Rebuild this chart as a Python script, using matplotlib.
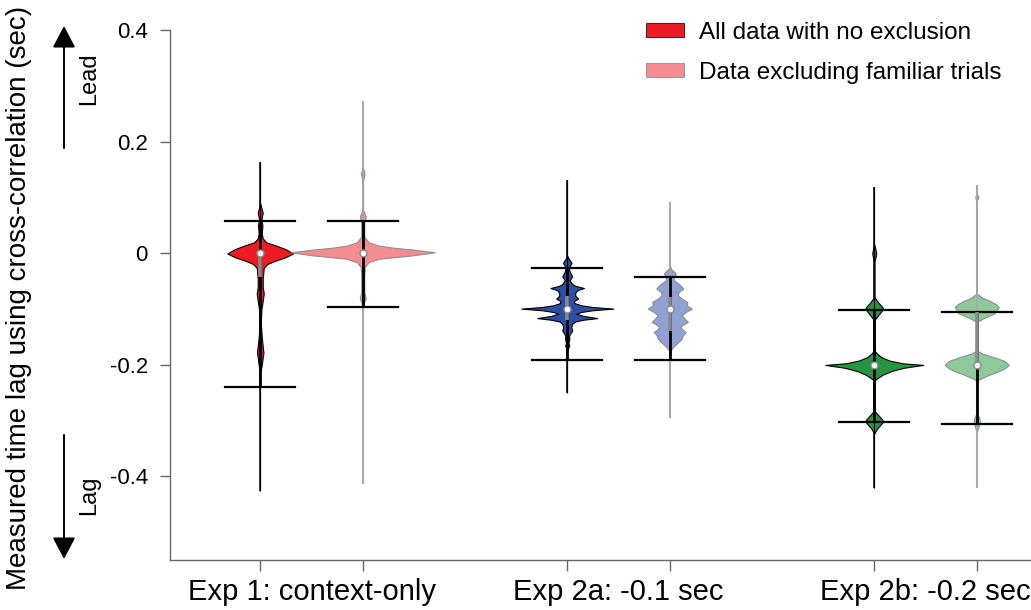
import numpy as np
import matplotlib
matplotlib.use('Agg')
import matplotlib.pyplot as plt
from matplotlib.patches import Patch, FancyArrowPatch

plt.rcParams['font.family'] = ['Liberation Sans', 'DejaVu Sans']

# ---------------- data ----------------
groups = ['Exp 1: context-only', 'Exp 2a: -0.1 sec', 'Exp 2b: -0.2 sec']
series = ['All data with no exclusion', 'Data excluding familiar trials']
ytick_vals = [0.4, 0.2, 0.0, -0.2, -0.4]
ytick_labels = ['0.4', '0.2', '0', '-0.2', '-0.4']

# violin outlines: (lag in sec, half-width as read, px at 307 px per category)
exp1_all_shape = [(0.09, 0), (0.073, 2.5), (0.062, 1.2), (0.05, 2.2), (0.036, 1.5),
                  (0.027, 2.5), (0.02, 6), (0.014, 16), (0.008, 25), (0.0, 33),
                  (-0.007, 25), (-0.013, 15), (-0.019, 7), (-0.026, 3.5), (-0.045, 2.5),
                  (-0.06, 2.5), (-0.072, 3.5), (-0.085, 2.5), (-0.1, 1.2), (-0.125, 0.6),
                  (-0.15, 1.5), (-0.178, 3.2), (-0.2, 1.5), (-0.215, 0)]
exp1_excl_shape = [(0.155, 0), (0.143, 1.8), (0.13, 0.3), (0.078, 0.3), (0.066, 3),
                   (0.055, 1.5), (0.03, 1.5), (0.02, 6), (0.014, 16), (0.010, 32),
                   (0.0072, 49), (0.002, 72), (-0.0036, 49), (-0.0066, 32), (-0.0096, 16),
                   (-0.0156, 6), (-0.0245, 2), (-0.04, 1.5), (-0.07, 1.5), (-0.08, 3),
                   (-0.09, 1), (-0.1, 0)]
exp2a_all_shape = [(-0.004, 0), (-0.008, 1), (-0.017, 4.3), (-0.025, 1.5), (-0.033, 2.5),
                   (-0.041, 5), (-0.048, 2.5), (-0.055, 5), (-0.058, 8), (-0.062, 16.7),
                   (-0.066, 10), (-0.071, 8), (-0.076, 8), (-0.081, 11), (-0.085, 7),
                   (-0.089, 7), (-0.093, 14), (-0.096, 25), (-0.099, 46), (-0.102, 25),
                   (-0.105, 14), (-0.108, 9), (-0.112, 16), (-0.116, 30), (-0.119, 16),
                   (-0.122, 8), (-0.126, 5), (-0.132, 4), (-0.138, 5), (-0.147, 2),
                   (-0.155, 2), (-0.16, 1.2), (-0.165, 2), (-0.175, 0)]
exp2a_excl_shape = [(-0.02, 0), (-0.027, 1), (-0.036, 6), (-0.042, 4), (-0.048, 4),
                    (-0.056, 10), (-0.063, 13.5), (-0.069, 9), (-0.075, 8), (-0.081, 12),
                    (-0.087, 17.5), (-0.093, 17), (-0.099, 22), (-0.105, 16), (-0.111, 12),
                    (-0.117, 15), (-0.123, 18), (-0.128, 13), (-0.132, 10.5), (-0.137, 13),
                    (-0.141, 16), (-0.147, 13), (-0.153, 12), (-0.16, 8), (-0.165, 5),
                    (-0.173, 1), (-0.18, 0)]
exp2b_all_shape = [(0.016, 0), (0.008, 1.2), (0.0, 2), (-0.008, 1.2), (-0.016, 0),
                   (-0.078, 0), (-0.088, 4), (-0.095, 7.5), (-0.099, 9), (-0.104, 7),
                   (-0.112, 3.5), (-0.12, 0), (-0.174, 0), (-0.18, 3), (-0.186, 7),
                   (-0.192, 15), (-0.197, 28), (-0.2, 49), (-0.205, 30), (-0.211, 17),
                   (-0.218, 8), (-0.224, 3), (-0.228, 0), (-0.282, 0), (-0.29, 4),
                   (-0.297, 7.5), (-0.301, 9), (-0.306, 7), (-0.314, 3), (-0.323, 0)]
exp2b_excl_shape = [(0.108, 0), (0.101, 1.5), (0.094, 0), (-0.072, 0), (-0.08, 6),
                    (-0.085, 13), (-0.091, 19), (-0.096, 22), (-0.102, 20), (-0.108, 17.5),
                    (-0.116, 7), (-0.123, 0), (-0.174, 0), (-0.18, 6), (-0.186, 17),
                    (-0.193, 28), (-0.2, 32), (-0.206, 28), (-0.212, 21), (-0.218, 12),
                    (-0.222, 7), (-0.228, 0), (-0.286, 0), (-0.295, 2.5), (-0.302, 3),
                    (-0.31, 2), (-0.32, 0)]

all_shapes = [exp1_all_shape, exp2a_all_shape, exp2b_all_shape]
excl_shapes = [exp1_excl_shape, exp2a_excl_shape, exp2b_excl_shape]

# full range (min, max)
all_range = [(-0.426, 0.164), (-0.251, 0.131), (-0.42, 0.119)]
excl_range = [(-0.414, 0.274), (-0.296, 0.092), (-0.42, 0.122)]
# whisker caps (low, high)
all_caps = [(-0.239, 0.059), (-0.192, -0.027), (-0.302, -0.101)]
excl_caps = [(-0.096, 0.059), (-0.191, -0.043), (-0.306, -0.105)]
# medians
all_median = [0.0, -0.1, -0.2]
excl_median = [0.0, -0.1, -0.2]
# interquartile (low, high)
all_iqr = [(-0.043, 0.0), (-0.12, -0.077), (-0.2, -0.2)]
excl_iqr = [(-0.004, 0.004), (-0.14, -0.078), (-0.2, -0.105)]

# ---------------- styles ----------------
all_colors = ['#ED1C24', '#2D4EA2', '#27943F']
excl_colors = ['#F58C90', '#90A1D4', '#8CC99B']
PX_PER_UNIT = 307.0
OFFSET = 0.167
CAP_HALF = 35.0 / PX_PER_UNIT
SPINE = '#666666'

fig = plt.figure(figsize=(10.31, 6.10), dpi=100)
ax = fig.add_axes([170 / 1031, 50 / 610, 1 - 170 / 1031, (560 - 30.5) / 610])


def draw_violin(x, shape, face, edge, rng, caps, med, iqr, line_col, line_w):
    ys = [p[0] for p in shape]
    ws = np.array([p[1] for p in shape]) / PX_PER_UNIT
    ax.plot([x, x], rng, color=line_col, lw=line_w, zorder=2, solid_capstyle='butt')
    ax.fill_betweenx(ys, x - ws, x + ws, facecolor=face, edgecolor=edge,
                     lw=0.8, zorder=3)
    ax.plot([x, x], rng, color=line_col, lw=line_w * 0.8, zorder=3.5,
            solid_capstyle='butt')
    ax.plot([x, x], caps, color='black', lw=2.0, zorder=4, solid_capstyle='butt')
    for c in caps:
        ax.plot([x - CAP_HALF, x + CAP_HALF], [c, c], color='black', lw=1.6, zorder=4)
    if iqr[1] - iqr[0] > 0.005:
        ax.plot([x, x], iqr, color='#8a8a8a', lw=2.6, zorder=5, solid_capstyle='butt')
    ax.plot([x], [med], marker='o', ms=5, mfc='white', mec='#8a8a8a', mew=1.0, zorder=6)


positions = []
for g in range(len(groups)):
    xa = g - OFFSET
    xe = g + OFFSET
    positions += [xa, xe]
    draw_violin(xa, all_shapes[g], all_colors[g], 'black', all_range[g], all_caps[g],
                all_median[g], all_iqr[g], 'black', 1.1)
    draw_violin(xe, excl_shapes[g], excl_colors[g], '#8f8f8f', excl_range[g], excl_caps[g],
                excl_median[g], excl_iqr[g], '#a8a8a8', 1.5)

ax.set_xlim((170 - 311.5) / PX_PER_UNIT, (1031 - 311.5) / PX_PER_UNIT)
ax.set_ylim(-0.55, 0.4)

ax.set_yticks(ytick_vals)
ax.set_yticklabels(ytick_labels, fontsize=16)
ax.tick_params(axis='y', length=7, width=1, color=SPINE, pad=9)

ax.set_xticks(positions)
ax.set_xticklabels([''] * len(positions))
ax.tick_params(axis='x', which='major', length=8, width=1, color=SPINE)
ax.set_xticks(range(len(groups)), minor=True)
ax.set_xticklabels(groups, minor=True, fontsize=21)
ax.tick_params(axis='x', which='minor', length=0, pad=13)

for s in ['top', 'right']:
    ax.spines[s].set_visible(False)
for s in ['left', 'bottom']:
    ax.spines[s].set_color(SPINE)
    ax.spines[s].set_linewidth(1.0)

# legend
handles = [Patch(facecolor=all_colors[0], edgecolor='#333333', lw=0.8),
           Patch(facecolor=excl_colors[0], edgecolor='#999999', lw=0.8)]
fig.legend(handles, series, loc='upper left', bbox_to_anchor=(646 / 1031, 1 - 22 / 610),
           frameon=False, fontsize=17.5, handlelength=1.55, handleheight=0.5,
           handletextpad=0.65, labelspacing=0.72, borderpad=0, borderaxespad=0)

# y label
fig.text(19 / 1031, 1 - 298 / 610, 'Measured time lag using cross-correlation (sec)',
         rotation=90, ha='center', va='center', fontsize=20)

# Lead / Lag arrows
arrow_kw = dict(arrowstyle='-|>,head_length=0.95,head_width=0.5', color='black', lw=1.4,
                shrinkA=0, shrinkB=0, mutation_scale=14, transform=fig.transFigure)
fig.add_artist(FancyArrowPatch((64 / 1031, 1 - 148 / 610), (64 / 1031, 1 - 26 / 610),
                               **arrow_kw))
fig.add_artist(FancyArrowPatch((64 / 1031, 1 - 435 / 610), (64 / 1031, 1 - 559 / 610),
                               **arrow_kw))
fig.text(89 / 1031, 1 - 79 / 610, 'Lead', rotation=90, ha='center', va='center', fontsize=17)
fig.text(89 / 1031, 1 - 495 / 610, 'Lag', rotation=90, ha='center', va='center', fontsize=17)

fig.savefig('out.png', dpi=100)
